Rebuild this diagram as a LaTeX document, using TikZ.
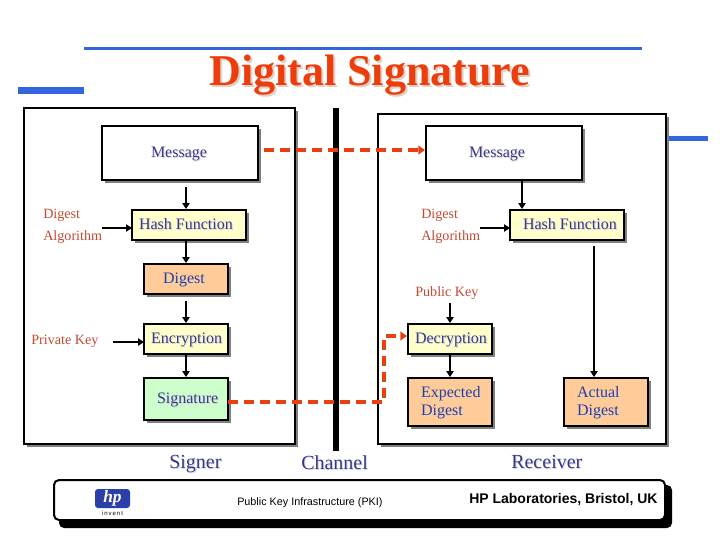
\documentclass[tikz,border=0pt]{standalone}
\usepackage{fontspec}
\setmainfont{Liberation Serif}
\newfontfamily\arialfont{Liberation Sans}
\usetikzlibrary{arrows.meta,shadows}
\definecolor{bluebar}{HTML}{3366DD}
\definecolor{titlered}{HTML}{EE3D0C}
\definecolor{titleshade}{HTML}{DDD0C4}
\definecolor{inktext}{HTML}{38388C}
\definecolor{redtext}{HTML}{C24A32}
\definecolor{dashred}{HTML}{E8400F}
\definecolor{boxshade}{HTML}{808080}
\definecolor{txtshade}{HTML}{D8D8D8}
\definecolor{paleyellow}{HTML}{FFFFCC}
\definecolor{peach}{HTML}{FFCC99}
\definecolor{palegreen}{HTML}{CCFFCC}
\definecolor{hpblue}{HTML}{2B3FA8}
\newlength\pxu
\setlength\pxu{0.75pt}
\newcommand{\shtx}[1]{\makebox[0pt][l]{\color{txtshade}\hspace*{1\pxu}\raisebox{-1\pxu}{#1}}#1}
\newcommand{\boxtx}[3]{\makebox[0pt][l]{\hspace*{#1\pxu}\raisebox{-#2\pxu}[0pt][0pt]{\shtx{#3}}}}
\tikzset{
  frame/.style={draw=black,fill=white,line width=1.5pt,inner sep=0pt,
    general shadow={fill=boxshade,shadow xshift=2.25pt,shadow yshift=-2.25pt}},
  stage/.style={frame,text=inktext,font=\fontsize{12}{14}\selectfont},
  lbl/.style={inner sep=0pt,anchor=base west,text=redtext,font=\fontsize{10.6}{13}\selectfont},
  party/.style={inner sep=0pt,anchor=base west,text=inktext,font=\fontsize{15}{18}\selectfont},
  arr/.style={draw=black,line width=1.5pt,-{Triangle[length=4.5pt,width=5.5pt]}},
  dashline/.style={draw=dashred,line width=3pt,dash pattern=on 7.5pt off 4.5pt},
  dasharr/.style={dashline,-{Triangle[length=5pt,width=6.5pt]}},
}
\begin{document}
\begin{tikzpicture}[x=0.75pt,y=-0.75pt]
\useasboundingbox (0,0) rectangle (720,540);
\fill[white] (0,0) rectangle (720,540);
% decorative bars
\fill[bluebar] (84,47) rectangle (642,50);
\fill[bluebar] (18,87) rectangle (84,94);
\fill[bluebar] (666,136) rectangle (708,141);
% title
\node[inner sep=0pt,anchor=base west,text=titlered,font=\fontsize{33}{38}\selectfont\bfseries] (title) at (209,85)
  {\makebox[0pt][l]{\color{titleshade}\hspace*{2\pxu}\raisebox{-2\pxu}{Digital Signature}}Digital Signature};
% panels
\node[frame,minimum width=271\pxu,minimum height=336\pxu] (signerbox) at (159.5,276) {};
\node[frame,minimum width=288\pxu,minimum height=330\pxu] (receiverbox) at (521.5,279) {};
\fill[black] (333,108) rectangle (339,451);
% signer stages
\node[stage,minimum width=156\pxu,minimum height=54\pxu] (msgL) at (180,153) {\boxtx{-29}{4}{Message}};
\node[stage,fill=paleyellow,minimum width=114\pxu,minimum height=30\pxu] (hashL) at (189,225) {\boxtx{-50}{4}{Hash Function}};
\node[stage,fill=peach,minimum width=84\pxu,minimum height=30\pxu] (digest) at (186,279) {\boxtx{-23}{4}{Digest}};
\node[stage,fill=paleyellow,minimum width=84\pxu,minimum height=30\pxu] (enc) at (186,339) {\boxtx{-35}{4}{Encryption}};
\node[stage,fill=palegreen,minimum width=84\pxu,minimum height=42\pxu] (sig) at (186,399) {\boxtx{-29}{4}{Signature}};
% receiver stages
\node[stage,minimum width=156\pxu,minimum height=54\pxu] (msgR) at (504,153) {\boxtx{-35}{4}{Message}};
\node[stage,fill=paleyellow,minimum width=114\pxu,minimum height=30\pxu] (hashR) at (567,225) {\boxtx{-44}{4}{Hash Function}};
\node[stage,fill=paleyellow,minimum width=84\pxu,minimum height=30\pxu] (dec) at (450,339) {\boxtx{-35}{4}{Decryption}};
\node[stage,fill=peach,minimum width=84\pxu,minimum height=48\pxu] (expd) at (450,402) {\boxtx{-29}{-5}{Expected}\boxtx{-29}{13}{Digest}};
\node[stage,fill=peach,minimum width=84\pxu,minimum height=48\pxu] (actd) at (606,402) {\boxtx{-29}{-5}{Actual}\boxtx{-29}{13}{Digest}};
% red labels
\node[lbl] (digL) at (43,218) {Digest};
\node[lbl] (algL) at (43,240) {Algorithm};
\node[lbl] (privk) at (31,344) {Private Key};
\node[lbl] (digR) at (421,218) {Digest};
\node[lbl] (algR) at (421,240) {Algorithm};
\node[lbl] (pubk) at (415,296) {Public Key};
% party labels
\node[party] (signer) at (169,468) {\shtx{Signer}};
\node[party] (channel) at (301,469) {\shtx{Channel}};
\node[party] (receiver) at (511,468) {\shtx{Receiver}};
% connector helpers
\coordinate (algInL) at (132,228);
\coordinate (algInR) at (510,228);
\coordinate (keyIn) at (144,342);
\coordinate (msgDownR) at (522,180);
\coordinate (hashDownR) at (594,240);
\coordinate (dashTop) at (258,150);
\coordinate (dashSig) at (228,402);
\coordinate (dashCorner) at (384,402);
\coordinate (dashUp) at (384,336);
% signer connectors
\draw[arr,shorten <=4.5pt] (msgL.south -| digest.north) -- (hashL.north -| digest.north);
\draw[arr] (hashL.south -| digest.north) -- (digest.north);
\draw[arr,shorten <=4.5pt] (digest.south) -- (enc.north);
\draw[arr] (enc.south) -- (sig.north);
\draw[arr] (algL.east |- algInL) -- (algInL);
\draw[arr,shorten <=11pt] (privk.east |- keyIn) -- (keyIn);
% receiver connectors
\draw[arr] (msgDownR) -- (msgDownR |- hashR.north);
\draw[arr] (algR.east |- algInR) -- (algInR);
\draw[arr,shorten <=4.5pt] (hashDownR) -- (hashDownR |- actd.north);
\draw[arr,shorten <=3pt] (pubk.south -| dec.north) -- (dec.north);
\draw[arr] (dec.south) -- (expd.north);
% dashed channel connectors
\draw[dasharr,shorten <=4.5pt] (dashTop) -- (dashTop -| msgR.west);
\draw[dasharr] (dashSig) -- (dashCorner) -- (dashUp) -- (dashUp -| dec.west);
% footer
\fill[black,rounded corners=5\pxu] (59,485) rectangle (672,528);
\node[draw=black,fill=white,line width=1.5pt,rounded corners=5\pxu,inner sep=0pt,minimum width=611\pxu,minimum height=40\pxu] (footer) at (359.5,500) {};
\node[fill=hpblue,rounded corners=3\pxu,inner sep=0pt,minimum width=35\pxu,minimum height=19\pxu,text=white,font=\fontsize{13}{13}\selectfont\bfseries\itshape] (hplogo) at (112.5,498.5) {hp};
\node[inner sep=0pt,anchor=base,text=black,font=\arialfont\fontsize{4.5}{5}\selectfont] (invent) at (112.5,515) {i\,n\,v\,e\,n\,t};
\node[inner sep=0pt,anchor=base west,text=black,font=\arialfont\fontsize{8.1}{10}\selectfont] (pki) at (237,505) {Public Key Infrastructure (PKI)};
\node[inner sep=0pt,anchor=base west,text=black,font=\arialfont\fontsize{10.5}{12}\selectfont\bfseries] (hplab) at (469,503) {HP Laboratories, Bristol, UK};
\end{tikzpicture}
\end{document}
